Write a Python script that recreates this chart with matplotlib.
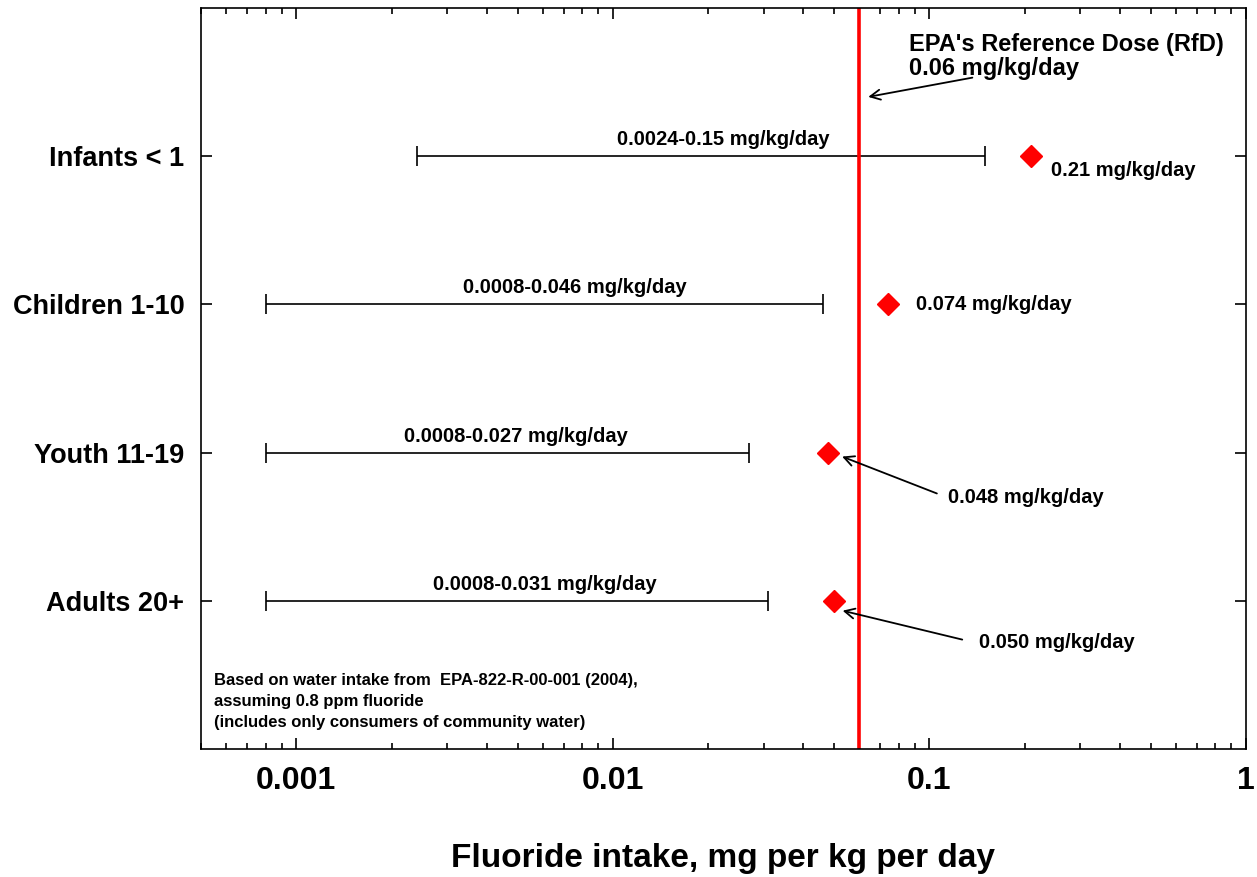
import matplotlib
matplotlib.use("Agg")
import matplotlib.pyplot as plt
from matplotlib.ticker import LogLocator, NullFormatter, FixedLocator

plt.rcParams['font.family'] = ['Liberation Sans', 'DejaVu Sans']
plt.rcParams['font.weight'] = 'bold'

# data
groups = ["Adults 20+", "Youth 11-19", "Children 1-10", "Infants < 1"]
ypos = [1, 2, 3, 4]
low = [0.0008, 0.0008, 0.0008, 0.0024]
high = [0.031, 0.027, 0.046, 0.15]
upper_pt = [0.050, 0.048, 0.074, 0.21]
range_labels = ["0.0008-0.031 mg/kg/day", "0.0008-0.027 mg/kg/day",
                "0.0008-0.046 mg/kg/day", "0.0024-0.15 mg/kg/day"]
range_label_x = [0.00271, 0.00219, 0.00337, 0.0103]   # left edge of label
pt_labels = ["0.050 mg/kg/day", "0.048 mg/kg/day", "0.074 mg/kg/day", "0.21 mg/kg/day"]
rfd = 0.06

fig = plt.figure(figsize=(12.57, 8.77), dpi=100)
ax = fig.add_axes([0.1599, 0.146, 0.8313, 0.8449])
ax.set_xscale('log')
ax.set_xlim(0.0005, 1)
ax.set_ylim(0, 5)

# ranges
for y, lo, hi in zip(ypos, low, high):
    mid = (lo * hi) ** 0.5
    ax.errorbar([mid], [y], xerr=[[mid - lo], [hi - mid]],
                fmt='none', ecolor='black', elinewidth=1.2, capsize=7, capthick=1.2)
for y, x, s in zip(ypos, range_label_x, range_labels):
    ax.annotate(s, (x, y), xytext=(0, 5), textcoords='offset points',
                ha='left', va='bottom', fontsize=14.5, fontweight='bold')

# upper points
ax.plot(upper_pt, ypos, linestyle='none', marker='D', color='red', markersize=11)

# RfD line
ax.axvline(rfd, color='red', linewidth=2.6)

# labels for the points
ax.annotate(pt_labels[3], (upper_pt[3], ypos[3]), xytext=(14, -10), textcoords='offset points',
            ha='left', va='center', fontsize=14.5, fontweight='bold')
ax.annotate(pt_labels[2], (upper_pt[2], ypos[2]), xytext=(20, 0), textcoords='offset points',
            ha='left', va='center', fontsize=14.5, fontweight='bold')
ax.annotate(pt_labels[1], (upper_pt[1], ypos[1]), xytext=(86, -32), textcoords='offset points',
            ha='left', va='center', fontsize=14.5, fontweight='bold')
ax.annotate(pt_labels[0], (upper_pt[0], ypos[0]), xytext=(104, -30), textcoords='offset points',
            ha='left', va='center', fontsize=14.5, fontweight='bold')

arrow_kw = dict(arrowstyle='->', color='black', lw=1.3, mutation_scale=18, shrinkA=0, shrinkB=0)
ax.annotate("", xy=(0.053, 1.973), xytext=(0.1056, 1.724), arrowprops=arrow_kw)
ax.annotate("", xy=(0.0532, 0.933), xytext=(0.127, 0.738), arrowprops=arrow_kw)

# RfD annotation
ax.text(0.0865, 4.67, "EPA's Reference Dose (RfD)\n0.06 mg/kg/day",
        ha='left', va='center', fontsize=17, fontweight='bold', linespacing=1.05)
ax.annotate("", xy=(0.0641, 4.40), xytext=(0.1367, 4.53), arrowprops=arrow_kw)

# note
ax.text(0.0125, 0.025, "Based on water intake from  EPA-822-R-00-001 (2004),\n"
        "assuming 0.8 ppm fluoride\n(includes only consumers of community water)",
        transform=ax.transAxes, ha='left', va='bottom', fontsize=12,
        fontweight='bold', linespacing=1.5)

# axes styling
ax.set_yticks(ypos)
ax.set_yticklabels(groups)
ax.xaxis.set_major_locator(FixedLocator([0.001, 0.01, 0.1, 1]))
ax.set_xticklabels(["0.001", "0.01", "0.1", "1"])
ax.xaxis.set_minor_locator(LogLocator(base=10, subs=range(2, 10), numticks=20))
ax.xaxis.set_minor_formatter(NullFormatter())
ax.tick_params(axis='both', which='both', direction='in', top=True, right=True, width=1.2)
ax.tick_params(axis='x', which='major', length=8, labelsize=23, pad=12)
ax.tick_params(axis='x', which='minor', length=4)
ax.tick_params(axis='y', which='major', length=8, labelsize=19.5, pad=12)
for lab in ax.get_xticklabels() + ax.get_yticklabels():
    lab.set_fontweight('bold')
for sp in ax.spines.values():
    sp.set_linewidth(1.2)

ax.set_xlabel("Fluoride intake, mg per kg per day", fontsize=24, fontweight='bold', labelpad=34)

fig.savefig("out.png", dpi=100)
